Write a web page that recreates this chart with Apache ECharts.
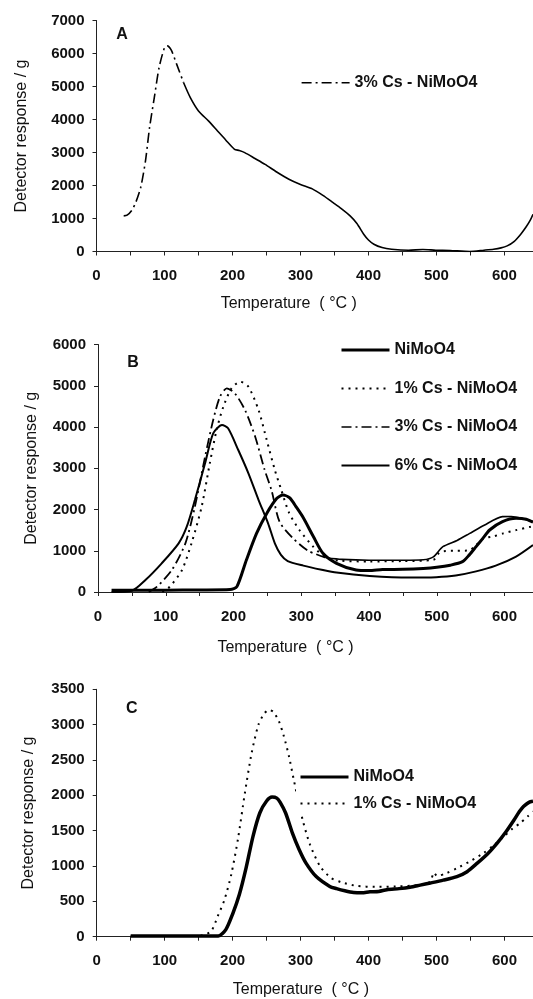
<!DOCTYPE html>
<html><head><meta charset="utf-8">
<script src="https://cdn.jsdelivr.net/npm/echarts@6/dist/echarts.min.js"></script>
<style>html,body{margin:0;padding:0;background:#fff}#c{width:533px;height:999px}</style>
</head><body><div id="c"></div>
<script>
// ---------- Panel A : 3% Cs - NiMoO4 ----------
const tA_dash = [40, 45, 52, 58, 65, 72, 78, 85, 92, 100, 104, 110, 118, 128];
const vA_dash = [1080, 1100, 1250, 1500, 1940, 2740, 3750, 4660, 5570, 6175, 6230, 6100, 5670, 5120];
const tA_solid = [128, 138, 150, 165, 178, 190, 203, 210, 218, 233, 248, 265, 283, 300, 318, 333, 348, 360, 373, 383, 393, 400, 408, 420, 434, 459, 480, 499, 520, 549, 570, 584, 595, 604, 614, 624, 632, 638, 642];
const vA_solid = [5120, 4662, 4258, 3950, 3653, 3380, 3098, 3060, 2997, 2820, 2640, 2410, 2190, 2030, 1890, 1700, 1480, 1300, 1080, 850, 525, 350, 220, 120, 70, 40, 60, 40, 30, 0, 40, 70, 110, 170, 300, 525, 750, 950, 1130];

// ---------- Panel B ----------
const tB_ni = [20, 60, 100, 150, 195, 205, 219, 234, 249, 264, 273, 283, 293, 303, 318, 332, 352, 381, 400, 420, 450, 480, 500, 520, 538, 548, 558, 568, 578, 597, 617, 632, 642];
const vB_ni = [40, 40, 45, 50, 60, 130, 776, 1420, 1905, 2270, 2350, 2280, 2050, 1800, 1340, 938, 696, 533, 520, 545, 550, 570, 598, 650, 735, 900, 1099, 1300, 1503, 1705, 1786, 1762, 1690];
const tB_cs1 = [95, 106, 124, 138, 153, 165, 175, 185, 197, 210, 222, 237, 249, 261, 270, 282, 297, 317, 337, 357, 400, 450, 495, 503, 510, 530, 548, 556, 568, 584, 597, 617, 637, 642];
const vB_cs1 = [0, 128, 533, 1180, 2068, 3119, 3927, 4492, 4937, 5098, 4977, 4411, 3684, 2957, 2500, 1920, 1510, 1110, 830, 760, 740, 750, 780, 940, 990, 1000, 1010, 1100, 1290, 1350, 1415, 1500, 1577, 1590];
const tB_cs3_dash = [75, 87, 109, 129, 143, 158, 170, 180, 190, 202, 217, 232, 246, 256, 268, 288, 310, 337];
const vB_cs3_dash = [0, 128, 533, 1180, 2068, 3280, 4170, 4734, 4937, 4816, 4411, 3764, 2957, 2472, 1700, 1300, 1000, 830];
const tB_cs3_solid = [337, 360, 400, 450, 480, 495, 509, 530, 548, 570, 597, 610, 625, 642];
const vB_cs3_solid = [830, 790, 770, 770, 780, 850, 1099, 1250, 1415, 1620, 1827, 1830, 1790, 1710];
const tB_cs6 = [20, 50, 70, 94, 119, 131, 143, 158, 170, 183, 192, 207, 222, 237, 251, 261, 270, 280, 303, 330, 352, 401, 460, 499, 528, 558, 587, 617, 642];
const vB_cs6 = [0, 30, 290, 695, 1180, 1583, 2230, 3119, 3846, 4048, 3968, 3442, 2877, 2230, 1665, 1180, 900, 750, 640, 540, 470, 390, 350, 360, 400, 500, 640, 860, 1140];

// ---------- Panel C ----------
const tC_ni = [50, 100, 150, 179, 190, 200, 210, 220, 230, 240, 250, 258, 265, 270, 278, 288, 298, 308, 323, 343, 353, 365, 378, 390, 402, 415, 427, 445, 461, 476, 491, 510, 530, 545, 560, 575, 589, 602, 614, 622, 628, 636, 642];
const vC_ni = [10, 10, 10, 10, 100, 320, 600, 980, 1420, 1750, 1920, 1975, 1960, 1900, 1750, 1465, 1230, 1041, 850, 711, 680, 650, 625, 620, 635, 640, 665, 680, 700, 730, 760, 800, 850, 920, 1040, 1170, 1320, 1480, 1650, 1770, 1842, 1900, 1915];
const tC_cs1 = [50, 100, 150, 168, 178, 188, 198, 208, 218, 228, 238, 246, 253, 260, 268, 275, 283, 290, 303, 314, 329, 345, 360, 383, 410, 440, 476, 491, 496, 501, 515, 530, 550, 569, 585, 599, 612, 623, 634, 642];
const vC_cs1 = [10, 10, 10, 75, 287, 523, 880, 1390, 2030, 2600, 3000, 3150, 3210, 3180, 3050, 2850, 2549, 2220, 1654, 1300, 992, 830, 770, 718, 705, 710, 732, 780, 907, 860, 900, 969, 1070, 1181, 1300, 1417, 1530, 1606, 1700, 1771];

// ---------- axes / labels ----------
const yMaxes = [7000, 6000, 3500];
const yIntervals = [1000, 1000, 500];
const xMax = 642;
const panelLetters = ['A', 'B', 'C'];
const xTitle = 'Temperature  ( °C )';
const yTitle = 'Detector response / g';
const nNi = 'NiMoO4', n1 = '1% Cs - NiMoO4', n3 = '3% Cs - NiMoO4', n6 = '6% Cs - NiMoO4';

const FONT = '"Liberation Sans", Arial, sans-serif';
const INK = '#111';
const zip = (t, v) => t.map((x, i) => [x, v[i]]);

const grids = [
  {left: 96.5, top: 20.5, width: 436.5, height: 231},
  {left: 98, top: 344.5, width: 435, height: 247.5},
  {left: 96.7, top: 689.3, width: 436.3, height: 247.4}
];
const xNameShift = [26, 30, 14];
const xNameGap = [44, 48, 45];
const yNameGap = [67, 58, 60];

const xAxes = grids.map((g, i) => ({
  type: 'value', gridIndex: i, min: 0, max: xMax, interval: 100,
  axisLine: {show: true, onZero: false, lineStyle: {color: '#222', width: 1}},
  axisTick: {show: true, length: 4, lineStyle: {color: '#222'}},
  minorTick: {show: true, splitNumber: 2, length: 4, lineStyle: {color: '#222'}},
  splitLine: {show: false},
  axisLabel: {color: INK, fontSize: 15, fontWeight: 'bold', fontFamily: FONT, margin: 17, showMaxLabel: false,
    formatter: v => (v % 100 === 0 ? String(v) : '')},
  name: xTitle, nameLocation: 'middle', nameGap: xNameGap[i],
  nameTextStyle: {color: INK, fontSize: 16, fontFamily: FONT, padding: [0, xNameShift[i] * 2, 0, 0]}
}));
const yAxes = grids.map((g, i) => ({
  type: 'value', gridIndex: i, min: 0, max: yMaxes[i], interval: yIntervals[i],
  axisLine: {show: true, lineStyle: {color: '#222', width: 1}},
  axisTick: {show: true, length: 4, lineStyle: {color: '#222'}},
  splitLine: {show: false},
  axisLabel: {color: INK, fontSize: 15, fontWeight: 'bold', fontFamily: FONT, margin: 12, formatter: v => String(v)},
  name: yTitle, nameLocation: 'middle', nameGap: yNameGap[i],
  nameTextStyle: {color: INK, fontSize: 16, fontFamily: FONT}
}));

function line(name, gi, data, width, type) {
  return {
    type: 'line', name, xAxisIndex: gi, yAxisIndex: gi, data,
    symbol: 'none', showSymbol: false, smooth: 0.25, animation: false,
    itemStyle: {color: '#000'},
    lineStyle: {color: '#000', width, type, cap: 'butt'},
    z: width > 2.5 ? 3 : 2
  };
}
const DOT = [2, 5], DASHDOT = [10, 4, 2, 4];

const series = [
  line(n3, 0, zip(tA_dash, vA_dash), 1.6, DASHDOT),
  line('A-cont', 0, zip(tA_solid, vA_solid), 1.6, 'solid'),
  line(nNi, 1, zip(tB_ni, vB_ni), 3, 'solid'),
  line(n1, 1, zip(tB_cs1, vB_cs1), 2, DOT),
  line('B-cont', 1, zip(tB_cs3_solid, vB_cs3_solid), 1.6, 'solid'),
  line(n6, 1, zip(tB_cs6, vB_cs6), 2, 'solid'),
  line(n3 + ' ', 1, zip(tB_cs3_dash, vB_cs3_dash), 1.8, DASHDOT),
  line(nNi, 2, zip(tC_ni, vC_ni), 3.5, 'solid'),
  line(n1, 2, zip(tC_cs1, vC_cs1), 2, DOT)
];

const legendBase = {
  orient: 'vertical', itemWidth: 48, itemHeight: 16, padding: 3,
  backgroundColor: '#fff', selectedMode: false,
  itemStyle: {opacity: 0, borderWidth: 0},
  lineStyle: {width: 'inherit'},
  textStyle: {color: INK, fontSize: 16, fontWeight: 'bold', fontFamily: FONT}
};
const legends = [
  Object.assign({}, legendBase, {data: [n3], left: 297.8, top: 71.7}),
  Object.assign({}, legendBase, {data: [nNi, n1, n3, n6], left: 337, top: 339, itemGap: 22.5}),
  Object.assign({}, legendBase, {data: [nNi, n1], left: 296, top: 766, itemGap: 10.5})
];

const letterPos = [[122, 35], [133, 363], [131.7, 709]];
const graphics = panelLetters.map((t, i) => ({
  type: 'text', x: letterPos[i][0], y: letterPos[i][1],
  style: {text: t, fill: INK, font: 'bold 16px ' + FONT, textAlign: 'center', textVerticalAlign: 'middle'}
}));

const chart = echarts.init(document.getElementById('c'), null, {renderer: 'canvas', width: 533, height: 999});
chart.setOption({
  animation: false,
  backgroundColor: '#fff',
  grid: grids,
  xAxis: xAxes,
  yAxis: yAxes,
  legend: legends,
  series,
  graphic: graphics
});
</script>
</body></html>
